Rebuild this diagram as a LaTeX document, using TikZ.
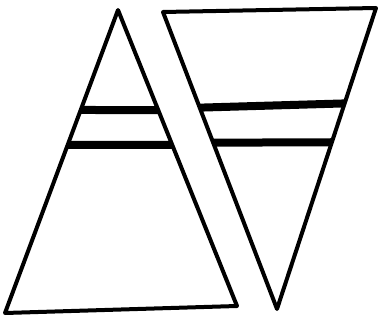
\documentclass[tikz,border=0pt]{standalone}
\usetikzlibrary{calc}
\tikzset{
  every picture/.style={x=1pt, y=-1pt},
  outline/.style={draw=black, line width=4pt, line join=round},
  bar/.style={draw=black, line width=8pt},
}
\begin{document}
\begin{tikzpicture}
  \useasboundingbox (0,0) rectangle (379,320);
  % up triangle
  \coordinate (apex) at (118,10);
  \coordinate (bl) at (5,313);
  \coordinate (br) at (237,306);
  \draw[outline] (apex) -- (bl) -- (br) -- cycle;
  % down triangle
  \coordinate (tl) at (163,12);
  \coordinate (tr) at (376,8);
  \coordinate (vtx) at (277,309);
  \draw[outline] (tl) -- (tr) -- (vtx) -- cycle;
  % the two bars, broken at the gap
  \foreach \a/\b/\c/\d in {0.33/0.338/0.322/0.317, 0.445/0.456/0.44/0.446} {
    \draw[bar] ($(apex)!\a!(bl)$) -- ($(apex)!\b!(br)$);
    \draw[bar] ($(tl)!\c!(vtx)$) -- ($(tr)!\d!(vtx)$);
  }
\end{tikzpicture}
\end{document}
